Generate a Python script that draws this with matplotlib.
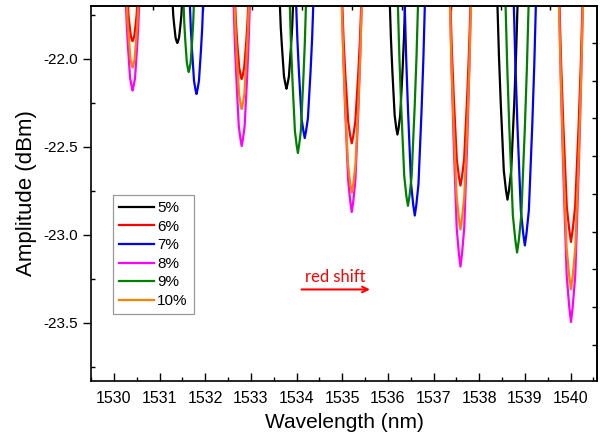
import numpy as np
import matplotlib
matplotlib.use("Agg")
import matplotlib.pyplot as plt

nan = np.nan

# transmission dips, one segment per dip (nan = break)
labels = ["5%", "6%", "7%", "8%", "9%", "10%"]
colors = ["#000000", "#ff0000", "#0000ff", "#ff00ff", "#008000", "#ff8000"]

wl_5 = [1531.283, 1531.300, 1531.320, 1531.352, 1531.374, 1531.39, 1531.406, 1531.428, 1531.460, 1531.480, 1531.497, nan,
        1533.631, 1533.655, 1533.682, 1533.726, 1533.758, 1533.78, 1533.802, 1533.834, 1533.878, 1533.905, 1533.929, nan,
        1536.040, 1536.067, 1536.098, 1536.149, 1536.185, 1536.21, 1536.235, 1536.271, 1536.322, 1536.353, 1536.380, nan,
        1538.396, 1538.432, 1538.472, 1538.539, 1538.586, 1538.62, 1538.654, 1538.701, 1538.768, 1538.808, 1538.844]
amp_5 = [-21.66, -21.75, -21.805, -21.88, -21.90, -21.91, -21.90, -21.88, -21.805, -21.75, -21.66, nan,
         -21.66, -21.82, -21.935, -22.10, -22.145, -22.17, -22.145, -22.10, -21.935, -21.82, -21.66, nan,
         -21.66, -21.88, -22.065, -22.32, -22.395, -22.43, -22.395, -22.32, -22.065, -21.88, -21.66, nan,
         -21.66, -21.975, -22.25, -22.635, -22.745, -22.80, -22.745, -22.635, -22.25, -21.975, -21.66]

wl_6 = [1530.303, 1530.320, 1530.340, 1530.372, 1530.394, 1530.41, 1530.426, 1530.448, 1530.480, 1530.500, 1530.517, nan,
        1532.651, 1532.675, 1532.702, 1532.746, 1532.778, 1532.80, 1532.822, 1532.854, 1532.898, 1532.925, 1532.949, nan,
        1534.997, 1535.031, 1535.069, 1535.133, 1535.178, 1535.21, 1535.242, 1535.287, 1535.351, 1535.389, 1535.423, nan,
        1537.366, 1537.402, 1537.442, 1537.509, 1537.556, 1537.59, 1537.624, 1537.671, 1537.738, 1537.778, 1537.814, nan,
        1539.754, 1539.795, 1539.841, 1539.918, 1539.972, 1540.01, 1540.048, 1540.102, 1540.179, 1540.225, 1540.266]
amp_6 = [-21.66, -21.75, -21.80, -21.87, -21.89, -21.90, -21.89, -21.87, -21.80, -21.75, -21.66, nan,
         -21.66, -21.80, -21.91, -22.05, -22.095, -22.115, -22.095, -22.05, -21.91, -21.80, -21.66, nan,
         -21.66, -21.895, -22.09, -22.36, -22.44, -22.48, -22.44, -22.36, -22.09, -21.895, -21.66, nan,
         -21.66, -21.955, -22.21, -22.57, -22.67, -22.72, -22.67, -22.57, -22.21, -21.955, -21.66, nan,
         -21.66, -22.035, -22.37, -22.84, -22.97, -23.04, -22.97, -22.84, -22.37, -22.035, -21.66]

wl_7 = [1531.661, 1531.685, 1531.712, 1531.756, 1531.788, 1531.81, 1531.832, 1531.864, 1531.908, 1531.935, 1531.959, nan,
        1533.988, 1534.019, 1534.053, 1534.111, 1534.151, 1534.18, 1534.209, 1534.249, 1534.307, 1534.341, 1534.372, nan,
        1536.366, 1536.402, 1536.442, 1536.509, 1536.556, 1536.59, 1536.624, 1536.671, 1536.738, 1536.778, 1536.814, nan,
        1538.755, 1538.794, 1538.838, 1538.912, 1538.963, 1539.00, 1539.037, 1539.088, 1539.162, 1539.206, 1539.245]
amp_7 = [-21.66, -21.825, -21.95, -22.125, -22.175, -22.20, -22.175, -22.125, -21.95, -21.825, -21.66, nan,
         -21.66, -21.89, -22.075, -22.34, -22.41, -22.45, -22.41, -22.34, -22.075, -21.89, -21.66, nan,
         -21.66, -22.00, -22.295, -22.71, -22.83, -22.89, -22.83, -22.71, -22.295, -22.00, -21.66, nan,
         -21.66, -22.04, -22.38, -22.86, -22.99, -23.06, -22.99, -22.86, -22.38, -22.04, -21.66]

wl_8 = [1530.261, 1530.285, 1530.312, 1530.356, 1530.388, 1530.41, 1530.432, 1530.464, 1530.508, 1530.535, 1530.559, nan,
        1532.619, 1532.648, 1532.681, 1532.735, 1532.773, 1532.80, 1532.827, 1532.865, 1532.919, 1532.952, 1532.981, nan,
        1534.991, 1535.026, 1535.065, 1535.131, 1535.177, 1535.21, 1535.243, 1535.289, 1535.355, 1535.394, 1535.429, nan,
        1537.360, 1537.397, 1537.438, 1537.507, 1537.555, 1537.59, 1537.625, 1537.673, 1537.742, 1537.783, 1537.820, nan,
        1539.748, 1539.790, 1539.837, 1539.916, 1539.971, 1540.01, 1540.049, 1540.104, 1540.183, 1540.230, 1540.272]
amp_8 = [-21.66, -21.82, -21.94, -22.11, -22.155, -22.18, -22.155, -22.11, -21.94, -21.82, -21.66, nan,
         -21.66, -21.90, -22.10, -22.38, -22.455, -22.495, -22.455, -22.38, -22.10, -21.90, -21.66, nan,
         -21.66, -21.99, -22.285, -22.69, -22.81, -22.87, -22.81, -22.69, -22.285, -21.99, -21.66, nan,
         -21.66, -22.07, -22.44, -22.96, -23.105, -23.18, -23.105, -22.96, -22.44, -22.07, -21.66, nan,
         -21.66, -22.15, -22.60, -23.23, -23.405, -23.495, -23.405, -23.23, -22.60, -22.15, -21.66]

wl_9 = [1531.523, 1531.542, 1531.563, 1531.598, 1531.622, 1531.64, 1531.658, 1531.682, 1531.717, 1531.738, 1531.757, nan,
        1533.849, 1533.878, 1533.911, 1533.965, 1534.003, 1534.03, 1534.057, 1534.095, 1534.149, 1534.182, 1534.211, nan,
        1536.216, 1536.252, 1536.292, 1536.359, 1536.406, 1536.44, 1536.474, 1536.521, 1536.588, 1536.628, 1536.664, nan,
        1538.574, 1538.615, 1538.661, 1538.738, 1538.792, 1538.83, 1538.868, 1538.922, 1538.999, 1539.045, 1539.086]
amp_9 = [-21.66, -21.795, -21.89, -22.02, -22.055, -22.075, -22.055, -22.02, -21.89, -21.795, -21.66, nan,
         -21.66, -21.91, -22.12, -22.41, -22.49, -22.535, -22.49, -22.41, -22.12, -21.91, -21.66, nan,
         -21.66, -21.985, -22.27, -22.665, -22.78, -22.835, -22.78, -22.665, -22.27, -21.985, -21.66, nan,
         -21.66, -22.05, -22.40, -22.89, -23.03, -23.10, -23.03, -22.89, -22.40, -22.05, -21.66]

wl_10 = [1530.282, 1530.303, 1530.326, 1530.364, 1530.391, 1530.41, 1530.429, 1530.456, 1530.494, 1530.517, 1530.538, nan,
         1532.640, 1532.666, 1532.694, 1532.742, 1532.776, 1532.80, 1532.824, 1532.858, 1532.906, 1532.934, 1532.960, nan,
         1534.986, 1535.022, 1535.062, 1535.129, 1535.176, 1535.21, 1535.244, 1535.291, 1535.358, 1535.398, 1535.434, nan,
         1537.356, 1537.393, 1537.435, 1537.506, 1537.555, 1537.59, 1537.625, 1537.674, 1537.745, 1537.787, 1537.824, nan,
         1539.744, 1539.787, 1539.834, 1539.914, 1539.970, 1540.01, 1540.050, 1540.106, 1540.186, 1540.233, 1540.276]
amp_10 = [-21.66, -21.79, -21.875, -22.00, -22.03, -22.05, -22.03, -22.00, -21.875, -21.79, -21.66, nan,
          -21.66, -21.845, -21.99, -22.20, -22.255, -22.285, -22.255, -22.20, -21.99, -21.845, -21.66, nan,
          -21.66, -21.965, -22.23, -22.60, -22.71, -22.76, -22.71, -22.60, -22.23, -21.965, -21.66, nan,
          -21.66, -22.02, -22.335, -22.78, -22.905, -22.97, -22.905, -22.78, -22.335, -22.02, -21.66, nan,
          -21.66, -22.10, -22.505, -23.07, -23.23, -23.31, -23.23, -23.07, -22.505, -22.10, -21.66]

series_wl = [wl_5, wl_6, wl_7, wl_8, wl_9, wl_10]
series_amp = [amp_5, amp_6, amp_7, amp_8, amp_9, amp_10]

x_ticks = [1530, 1531, 1532, 1533, 1534, 1535, 1536, 1537, 1538, 1539, 1540]
y_ticks = [-22.0, -22.5, -23.0, -23.5]

plt.rcParams["font.family"] = ["Liberation Sans", "DejaVu Sans"]
plt.rcParams["axes.unicode_minus"] = False

fig = plt.figure(figsize=(6.01, 4.41), dpi=100)
ax = fig.add_axes([91 / 601, 60 / 441, 506 / 601, 375 / 441])

for wl, amp, col, lab in zip(series_wl, series_amp, colors, labels):
    ax.plot(wl, amp, color=col, lw=1.6, label=lab, solid_joinstyle="round")

ax.set_xlim(1529.79, 1540.58)
ax.set_ylim(-23.83, -21.70)
ax.set_xticks(x_ticks)
ax.set_xticks(np.arange(1529.5, 1540.6, 0.5), minor=True)
ax.set_yticks(y_ticks)
ax.set_yticks(np.arange(-23.75, -21.7, 0.25), minor=True)
ax.yaxis.set_major_formatter(plt.FormatStrFormatter("%.1f"))

ax.tick_params(axis="x", which="major", direction="in", length=6, width=1.0,
               labelsize=11.5, pad=7)
ax.tick_params(axis="x", which="minor", direction="in", length=3, width=1.0)
ax.tick_params(axis="y", which="major", direction="out", length=6, width=1.0,
               labelsize=11, pad=3)
ax.tick_params(axis="y", which="minor", direction="in", length=3, width=1.0)
for sp in ax.spines.values():
    sp.set_linewidth(1.2)

# mirrored axes with their own tick spacing
top = ax.secondary_xaxis("top")
top.set_xticks([1530.86, 1531.95, 1533.03, 1534.12, 1535.21, 1536.30,
                1537.38, 1538.47, 1539.56])
top.tick_params(direction="in", length=3, width=1.0, labeltop=False)
top.spines["top"].set_linewidth(1.2)
right = ax.secondary_yaxis("right")
right.set_yticks([-21.910, -22.126, -22.336, -22.552, -22.768, -22.984,
                  -23.194, -23.410, -23.626])
right.tick_params(direction="in", length=3.5, width=1.0, labelright=False)
right.spines["right"].set_linewidth(1.2)

ax.set_xlabel("Wavelength (nm)", fontsize=15, labelpad=5)
ax.set_ylabel("Amplitude (dBm)", fontsize=16, labelpad=5)

leg = ax.legend(loc="upper left", bbox_to_anchor=(0.0435, 0.496),
                borderaxespad=0, fontsize=11, frameon=True, fancybox=False,
                handlelength=2.3, handletextpad=0.2, labelspacing=0.3,
                borderpad=0.4)
leg.get_frame().set_edgecolor("#808080")
leg.get_frame().set_linewidth(0.9)

ax.annotate("", xy=(1535.67, -23.31), xytext=(1534.05, -23.31),
            arrowprops=dict(arrowstyle="->", color="#ff0000", lw=1.5))
ax.text(1534.84, -23.268, "red shift", color="#ff0000", fontsize=12,
        ha="center", va="baseline", family=["Lato", "DejaVu Sans"])

fig.savefig("out.png", dpi=100, facecolor="white")
